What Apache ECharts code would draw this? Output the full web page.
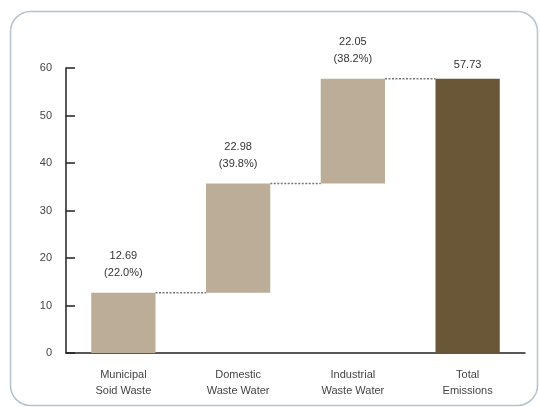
<!DOCTYPE html>
<html>
<head>
<meta charset="utf-8">
<script src="https://cdn.jsdelivr.net/npm/echarts@6/dist/echarts.min.js"></script>
<style>
  html, body { margin: 0; padding: 0; background: #fff; }
  #chart { width: 540px; height: 407px; }
</style>
</head>
<body>
<div id="chart"></div>
<script>
const categories = ['Municipal\nSoid Waste', 'Domestic\nWaste Water', 'Industrial\nWaste Water', 'Total\nEmissions']
const amounts = [12.69, 22.98, 22.05, 57.73]
const shares = ['22.0%', '39.8%', '38.2%', null]
const yTicks = [0, 10, 20, 30, 40, 50, 60]

const lightColor = '#bbad97'
const darkColor = '#6a5737'
const barRatio = 0.56

// invisible base for the floating steps
const bases = []
let running = 0
amounts.forEach((v, i) => {
  if (i === amounts.length - 1) {
    bases.push(0)
  } else {
    bases.push(running)
    running += v
  }
})

// dotted connectors between the steps: [category index, level]
const connectors = []
for (let i = 0; i < amounts.length - 1; i++) {
  connectors.push([i, bases[i] + amounts[i]])
}

const chart = echarts.init(document.getElementById('chart'))

chart.setOption({
  animation: false,
  textStyle: { fontFamily: 'Liberation Sans, Arial, sans-serif' },
  graphic: [{
    type: 'rect',
    shape: { x: 10.5, y: 11.5, width: 527, height: 394, r: 20 },
    style: { fill: 'none', stroke: '#b3c3cf', lineWidth: 1.5 },
    z: -1
  }],
  grid: { left: 66, right: 15, top: 68, bottom: 54 },
  xAxis: {
    type: 'category',
    data: categories,
    axisLine: { lineStyle: { color: '#222', width: 1.5 } },
    axisTick: { inside: true, length: 5, lineStyle: { color: '#222', width: 1.5 } },
    axisLabel: { color: '#444', fontSize: 11, lineHeight: 16, margin: 14 }
  },
  yAxis: {
    type: 'value',
    min: yTicks[0],
    max: yTicks[yTicks.length - 1],
    interval: 10,
    splitLine: { show: false },
    axisLine: { show: true, lineStyle: { color: '#222', width: 1.5 } },
    axisTick: { show: true, inside: true, length: 9, lineStyle: { color: '#222', width: 1.5 } },
    axisLabel: { color: '#444', fontSize: 11, margin: 14 }
  },
  series: [{
    type: 'bar',
    stack: 'w',
    barWidth: (barRatio * 100) + '%',
    data: bases,
    itemStyle: { color: 'transparent' },
    silent: true
  }, {
    type: 'bar',
    stack: 'w',
    barWidth: (barRatio * 100) + '%',
    data: amounts.map((v, i) => ({
      value: v,
      itemStyle: { color: i === amounts.length - 1 ? darkColor : lightColor },
      label: { distance: shares[i] ? 11 : 5 }
    })),
    label: {
      show: true,
      position: 'top',
      color: '#333',
      fontSize: 11,
      lineHeight: 17,
      formatter: p => shares[p.dataIndex] ? p.value.toFixed(2) + '\n(' + shares[p.dataIndex] + ')' : p.value.toFixed(2)
    }
  }, {
    type: 'custom',
    silent: true,
    data: connectors,
    renderItem: (params, api) => {
      const pt = api.coord([api.value(0), api.value(1)])
      const band = api.size([1, 0])[0]
      const half = band * barRatio / 2
      return {
        type: 'line',
        shape: { x1: pt[0] + half, y1: pt[1], x2: pt[0] + band - half, y2: pt[1] },
        style: { stroke: '#777', lineWidth: 1.5, lineDash: [2, 1.5] }
      }
    }
  }]
})
</script>
</body>
</html>
